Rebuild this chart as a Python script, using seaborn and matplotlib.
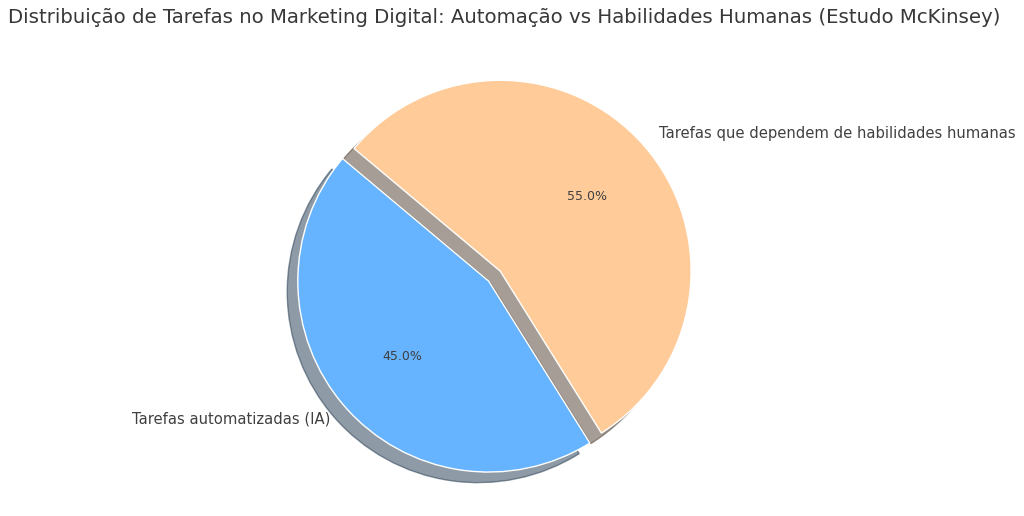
import matplotlib
matplotlib.use("Agg")
import matplotlib.pyplot as plt
import seaborn as sns

# dados (estudo McKinsey)
categorias = ['Tarefas automatizadas (IA)', 'Tarefas que dependem de habilidades humanas']
percentuais = [45, 55]
cores = ['#66b3ff', '#ffcc99']
destaque = [0.08, 0]

sns.set_style("white")
plt.rcParams['font.family'] = ['DejaVu Sans']

fig = plt.figure(figsize=(10.24, 5.16), dpi=100)
ax = fig.add_axes([0.2555, 0.012, 0.466, 0.925])

ax.pie(
    percentuais,
    labels=categorias,
    colors=cores,
    explode=destaque,
    autopct='%1.1f%%',
    startangle=140,
    shadow={'ox': -0.04, 'oy': -0.04},
    textprops={'fontsize': 10.6, 'color': '.25'},
)
for t in ax.texts:
    if t.get_text().endswith('%'):
        t.set_fontsize(9)
ax.set_aspect('equal')

fig.suptitle('Distribuição de Tarefas no Marketing Digital: Automação vs Habilidades Humanas (Estudo McKinsey)',
             fontsize=14.2, color='.22', x=0.492, y=0.985)

fig.savefig('out.png', dpi=100)
